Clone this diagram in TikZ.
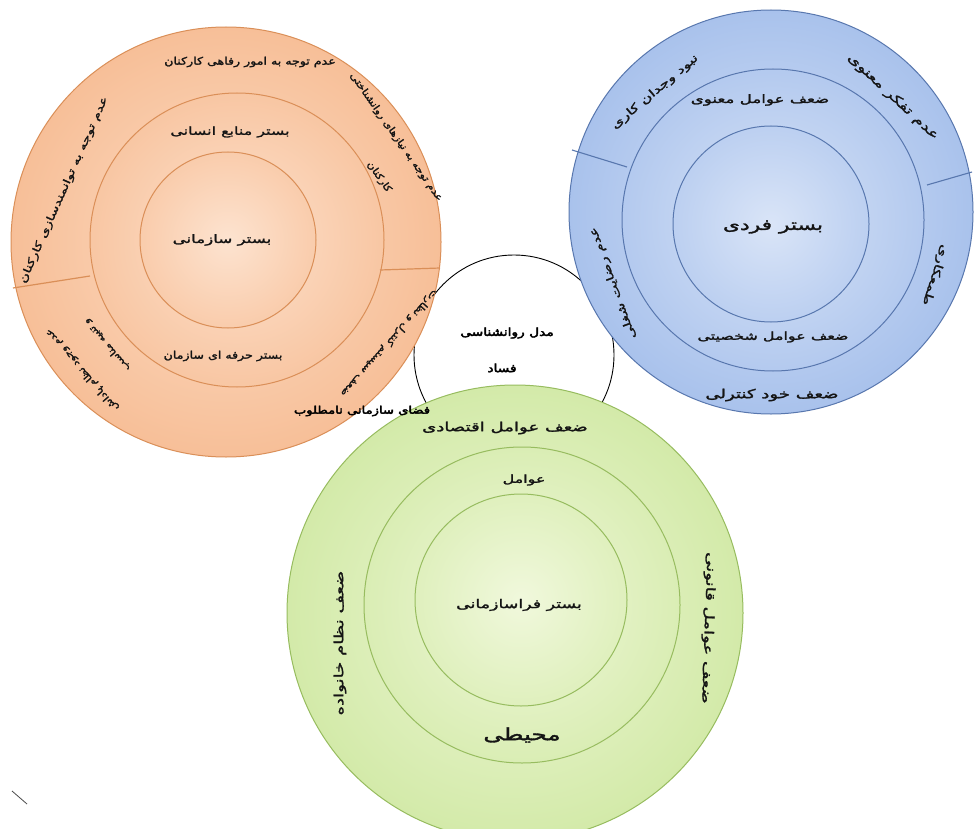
\documentclass[tikz,border=0pt]{standalone}
\usepackage{fontspec}
\newfontfamily\pfa[Script=Arabic,FakeStretch=1.45,FakeBold=2]{DejaVu Sans}
\newfontfamily\pfc[Script=Arabic,FakeStretch=1.2,FakeBold=2]{DejaVu Sans}
\newfontfamily\pfb[Script=Arabic,FakeStretch=1.25,FakeBold=4]{DejaVu Sans}
\TeXXeTstate=1
\definecolor{orIn}{HTML}{FCDCC4}
\definecolor{orOut}{HTML}{F7BF98}
\definecolor{orLine}{HTML}{DA8F58}
\definecolor{blIn}{HTML}{D3E0F6}
\definecolor{blOut}{HTML}{A9C2EC}
\definecolor{blLine}{HTML}{5877AE}
\definecolor{grIn}{HTML}{EEF7D6}
\definecolor{grOut}{HTML}{D3EAA9}
\definecolor{grLine}{HTML}{97BC5F}
\begin{document}
\begin{tikzpicture}[x=1pt,y=-1pt,
  ring/.style={circle,inner sep=0pt,line width=1pt},
  orng/.style={ring,draw=orLine,inner color=orIn,outer color=orOut},
  blu/.style={ring,draw=blLine,inner color=blIn,outer color=blOut},
  grn/.style={ring,draw=grLine,inner color=grIn,outer color=grOut},
  fa/.style={font=\fontsize{#1}{#1}\selectfont\pfa,inner sep=0pt,text=black!92},
  fc/.style={font=\fontsize{#1}{#1}\selectfont\pfc,inner sep=0pt,text=black!92},
  fb/.style={font=\fontsize{#1}{#1}\selectfont\pfb,inner sep=0pt,text=black},
  divl/.style={draw=orLine,line width=1.2pt},
  divb/.style={draw=blLine,line width=1.1pt}]
\useasboundingbox (0,0) rectangle (979,829);
\fill[white] (0,0) rectangle (979,829);
% central black circle
\node[circle,draw=black,line width=0.9pt,minimum size=200pt,inner sep=0pt] (core) at (514,355) {};
% orange
\node[orng,minimum size=430pt] (oOut) at (226,242) {};
\node[orng,minimum size=294pt,inner color=orIn!85!white,outer color=orOut!75!orIn] (oMid) at (237,240) {};
\node[orng,minimum size=176pt,inner color=orIn!80!white,outer color=orOut!55!orIn] (oIn) at (228,240) {};
\coordinate (oL1) at (13,288); \coordinate (oL2) at (90,276);
\coordinate (oR1) at (380,270); \coordinate (oR2) at (440,268);
\draw[divl] (oL1) -- (oL2);
\draw[divl] (oR1) -- (oR2);
% blue
\node[blu,minimum size=404pt] (bOut) at (771,212) {};
\node[blu,minimum size=302pt,inner color=blIn!90!white,outer color=blOut!75!blIn] (bMid) at (773,220) {};
\node[blu,minimum size=196pt,inner color=blIn!85!white,outer color=blOut!55!blIn] (bIn) at (771,224) {};
\coordinate (bL1) at (572,150); \coordinate (bL2) at (627,167);
\coordinate (bR1) at (927,185); \coordinate (bR2) at (972,172);
\draw[divb] (bL1) -- (bL2);
\draw[divb] (bR1) -- (bR2);
% green
\node[grn,minimum size=456pt] (gOut) at (515,613) {};
\node[grn,minimum size=316pt,inner color=grIn!90!white,outer color=grOut!75!grIn] (gMid) at (522,605) {};
\node[grn,minimum size=212pt,inner color=grIn!85!white,outer color=grOut!55!grIn] (gIn) at (521,600) {};
% small mark
\coordinate (m1) at (12,791); \coordinate (m2) at (27,804);
\draw[black!70,line width=0.8pt] (m1) -- (m2);
% orange texts
\node[fc=10.5] (t1) at (250,62) {\beginR عدم توجه به امور رفاهی کارکنان\endR};
\node[fa=11] (t2) at (230,132) {\beginR بستر منابع انسانی\endR};
\node[fa=11.5] (t3) at (222,240) {\beginR بستر سازمانی\endR};
\node[fc=10.5] (t4) at (223,356) {\beginR بستر حرفه ای سازمان\endR};
\node[fc=9.5,rotate=-55] (t5) at (396,137) {\beginR عدم توجه به نیازهای روانشناختی\endR};
\node[fc=9.5,rotate=-55] (t6) at (379,177) {\beginR کارکنان\endR};
\node[fa=10,rotate=66] (t7) at (64,190) {\beginR عدم توجه به توانمندسازی کارکنان\endR};
\node[fc=9.5,rotate=131] (t8) at (82,370) {\beginR عدم وجود نظام پاداش\endR};
\node[fc=9.5,rotate=131] (t9) at (107,345) {\beginR و تنبیه مناسب\endR};
\node[fc=9.5,rotate=-132] (t10) at (389,343) {\beginR ضعف سیستم کنترل و نظارت\endR};
\node[fb=10.5] (t11) at (362,411) {\beginR فضای سازمانی نامطلوب\endR};
% blue texts
\node[fa=12,rotate=-43] (u1) at (893,97) {\beginR عدم تفکر معنوی\endR};
\node[fa=11,rotate=40] (u2) at (655,92) {\beginR نبود وجدان کاری\endR};
\node[fa=11.5] (u3) at (760,100) {\beginR ضعف عوامل معنوی\endR};
\node[fa=15] (u4) at (773,227) {\beginR بستر فردی\endR};
\node[fa=11] (u5) at (773,337) {\beginR ضعف عوامل شخصیتی\endR};
\node[fa=12.5] (u6) at (772,395) {\beginR ضعف خود کنترلی\endR};
\node[fa=11,rotate=-108] (u7) at (935,275) {\beginR طمعکاری\endR};
\node[fa=10.5,rotate=110] (u8) at (613,283) {\beginR عدم رضایت شغلی\endR};
% green texts
\node[fa=12.5] (v1) at (505,428) {\beginR ضعف عوامل اقتصادی\endR};
\node[fa=11] (v2) at (524,480) {\beginR عوامل\endR};
\node[fa=12] (v3) at (519,605) {\beginR بستر فراسازمانی\endR};
\node[fa=17] (v4) at (522,735) {\beginR محیطی\endR};
\node[fa=12.5,rotate=90] (v5) at (340,643) {\beginR ضعف نظام خانواده\endR};
\node[fa=12.5,rotate=-92] (v6) at (708,628) {\beginR ضعف عوامل قانونی\endR};
% center
\node[fb=11] (c1) at (507,333) {\beginR مدل روانشناسی\endR};
\node[fb=11] (c2) at (502,368) {\beginR فساد\endR};
\end{tikzpicture}
\end{document}
